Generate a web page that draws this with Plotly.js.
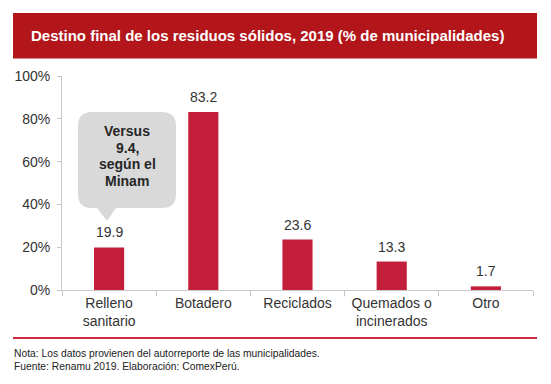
<!DOCTYPE html>
<html>
<head>
<meta charset="utf-8">
<script src="https://cdn.plot.ly/plotly-3.0.1.min.js"></script>
<style>
  html, body { margin: 0; padding: 0; background: #fff; }
  #chart { width: 551px; height: 384px; }
</style>
</head>
<body>
<div id="chart"></div>
<script>
// ---- data ----
const categories = ["Relleno<br>sanitario", "Botadero", "Reciclados", "Quemados o<br>incinerados", "Otro"];
const values = [19.9, 83.2, 23.6, 13.3, 1.7];
const yTicks = [0, 20, 40, 60, 80, 100];
const yTickLabels = ["0%", "20%", "40%", "60%", "80%", "100%"];
const titleText = "Destino final de los residuos sólidos, 2019 (% de municipalidades)";
const calloutLines = ["Versus", "9.4,", "según el", "Minam"];
const notes = [
  "Nota: Los datos provienen del autorreporte de las municipalidades.",
  "Fuente: Renamu 2019. Elaboración: ComexPerú."
];

// ---- layout geometry (pixels) ----
const W = 551, H = 384;
const L = 62, R = 533, T = 76, B = 290;
const FONT = "Liberation Sans, Arial, sans-serif";
const px = x => (x - L) / (R - L);
const py = y => (B - y) / (B - T);

// callout bubble path (paper coords)
function bubblePath() {
  const x0 = 78, x1 = 176, y0 = 112, y1 = 208, r = 14;
  const pts = [];
  const P = (x, y) => px(x).toFixed(5) + "," + py(y).toFixed(5);
  return "M" + P(x0 + r, y0) +
    " L" + P(x1 - r, y0) +
    " Q" + P(x1, y0) + " " + P(x1, y0 + r) +
    " L" + P(x1, y1 - r) +
    " Q" + P(x1, y1) + " " + P(x1 - r, y1) +
    " L" + P(116, y1) +
    " L" + P(107, 221) +
    " L" + P(97, y1) +
    " L" + P(x0 + r, y1) +
    " Q" + P(x0, y1) + " " + P(x0, y1 - r) +
    " L" + P(x0, y0 + r) +
    " Q" + P(x0, y0) + " " + P(x0 + r, y0) + " Z";
}

const trace = {
  type: "bar",
  x: categories,
  y: values,
  marker: { color: "#C41F3A", line: { width: 0 } },
  width: 0.32,
  hoverinfo: "skip"
};

const annotations = [];
// value labels
values.forEach((v, i) => {
  annotations.push({
    x: categories[i], y: v, xref: "x", yref: "y",
    text: v.toFixed(1), showarrow: false,
    yanchor: "bottom", yshift: 5,
    font: { family: FONT, size: 14, color: "#333333" }
  });
});
// callout text
const calloutY = [131, 147.5, 164, 180.5];
calloutLines.forEach((t, i) => {
  annotations.push({
    xref: "paper", yref: "paper", x: px(127), y: py(calloutY[i]),
    xanchor: "center", yanchor: "middle", showarrow: false,
    text: "<b>" + t + "</b>",
    font: { family: FONT, size: 14, color: "#262626" }
  });
});
// notes
const noteY = [353, 366];
notes.forEach((t, i) => {
  annotations.push({
    xref: "paper", yref: "paper", x: px(12), y: py(noteY[i]),
    xanchor: "left", yanchor: "middle", showarrow: false,
    text: t,
    font: { family: FONT, size: 10.3, color: "#222222" }
  });
});

const layout = {
  width: W, height: H,
  margin: { l: L, r: W - R, t: T, b: H - B, pad: 0 },
  paper_bgcolor: "#ffffff",
  plot_bgcolor: "#ffffff",
  showlegend: false,
  title: {
    text: "<b>" + titleText + "</b>",
    xref: "container", yref: "container",
    x: 31 / W, xanchor: "left",
    y: 1 - 36 / H, yanchor: "middle",
    font: { family: FONT, size: 15, color: "#ffffff" }
  },
  xaxis: {
    type: "category",
    range: [-0.5, 4.5],
    showline: true, linecolor: "#C8C8C8", linewidth: 1,
    ticks: "outside", tickson: "boundaries", ticklen: 5, tickcolor: "#C8C8C8",
    showgrid: false, zeroline: false,
    tickfont: { family: FONT, size: 14, color: "#333333" },
    fixedrange: true
  },
  yaxis: {
    range: [0, 100],
    tickmode: "array", tickvals: yTicks, ticktext: yTickLabels,
    showline: true, linecolor: "#C8C8C8", linewidth: 1,
    ticks: "outside", ticklen: 4, tickcolor: "#C8C8C8",
    ticklabelstandoff: 4,
    showgrid: false, zeroline: false,
    tickfont: { family: FONT, size: 14, color: "#333333" },
    fixedrange: true
  },
  shapes: [
    { type: "rect", xref: "paper", yref: "paper",
      x0: px(13), x1: px(537), y0: py(13), y1: py(58.5),
      fillcolor: "#B2151A", line: { width: 0 }, layer: "below" },
    { type: "line", xref: "paper", yref: "paper",
      x0: px(13), x1: px(537), y0: py(338), y1: py(338),
      line: { color: "#CC2A3E", width: 2 } },
    { type: "path", xref: "paper", yref: "paper", path: bubblePath(),
      fillcolor: "#D9D9D9", line: { width: 0 }, layer: "above" }
  ],
  annotations: annotations
};

Plotly.newPlot("chart", [trace], layout, { staticPlot: true, displayModeBar: false });
</script>
</body>
</html>
